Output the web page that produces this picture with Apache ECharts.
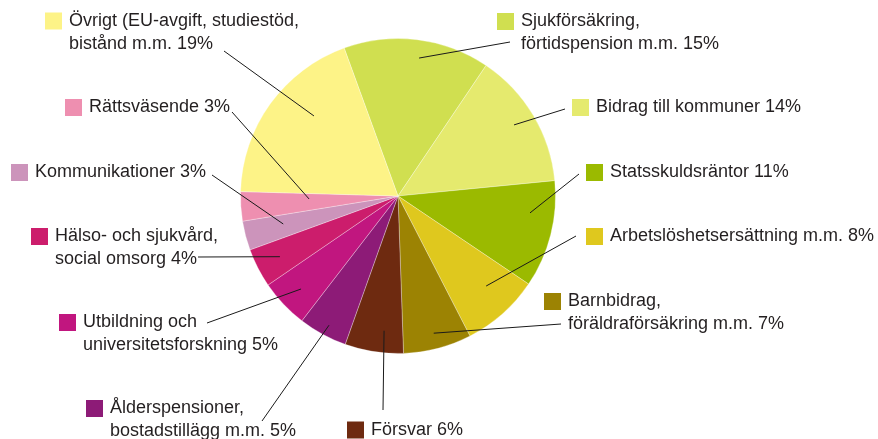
<!DOCTYPE html>
<html>
<head>
<meta charset="utf-8">
<script src="https://cdn.jsdelivr.net/npm/echarts@6/dist/echarts.min.js"></script>
<style>
  html, body { margin: 0; padding: 0; background: #fff; }
  #main { width: 878px; height: 439px; }
</style>
</head>
<body>
<div id="main"></div>
<script>
// utgiftsområden, medurs från toppen
var categories = [
  'Sjukförsäkring,\nförtidspension m.m.',
  'Bidrag till kommuner',
  'Statsskuldsräntor',
  'Arbetslöshetsersättning m.m.',
  'Barnbidrag,\nföräldraförsäkring m.m.',
  'Försvar',
  'Ålderspensioner,\nbostadstillägg m.m.',
  'Utbildning och\nuniversitetsforskning',
  'Hälso- och sjukvård,\nsocial omsorg',
  'Kommunikationer',
  'Rättsväsende',
  'Övrigt (EU-avgift, studiestöd,\nbistånd m.m.'
];
// andel i procent
var values = [15, 14, 11, 8, 7, 6, 5, 5, 4, 3, 3, 19];

// färger per tårtbit
var colors = ['#d0df50', '#e5ea6e', '#9bba00', '#dfc81e', '#9c8303', '#6e2a10',
  '#8d1b77', '#c1167f', '#cc1d6c', '#cc94bb', '#ee8fb0', '#fdf387'];

// etikettens övre vänstra hörn (rutan), linjens yttre ände,
// hur långt in linjen går och hur mycket den vrids (grader medurs)
var labelPos = [[497, 10], [572, 96], [586, 161], [586, 225], [544, 290], [347, 418.5],
  [86, 397], [59, 311], [31, 225], [11, 161], [65, 96], [45, 9.5]];
var lineEnd = [[510, 42], [565, 109], [579, 174], [576, 236], [561, 324], [383, 410],
  [262, 421], [207, 323], [198, 257], [212, 175], [232, 112], [224, 51]];
var innerK = [0.886, 0.864, 0.845, 0.8, 0.9, 0.86, 0.93, 0.853, 0.843, 0.75, 0.565, 0.737];
var innerRot = [1.7, -0.7, -6.9, -2.8, 0, -2.9, -0.5, -0.4, 0, 0.9, 1.9, 7.8];

var center = [398, 196];
var font = '"Liberation Sans", Arial, sans-serif';

var rich = {
  t: { fontSize: 18, lineHeight: 23, color: '#231f20', fontFamily: font },
  g: { width: 7, height: 17, lineHeight: 23 },
  sp: { width: 24, height: 17, lineHeight: 23 }
};
colors.forEach(function (c, i) {
  rich['sq' + i] = { width: 17, height: 17, lineHeight: 23, backgroundColor: c };
});

var pieData = categories.map(function (n, i) {
  return { name: n, value: values[i] };
});

// gemensamt för båda serierna: samma geometri
var pieBase = {
  type: 'pie',
  center: center,
  radius: 157.5,
  startAngle: 110,
  clockwise: true,
  avoidLabelOverlap: false,
  emphasis: { disabled: true },
  data: pieData
};

var myChart = echarts.init(document.getElementById('main'), null, { renderer: 'canvas' });
myChart.setOption({
  animation: false,
  color: colors,
  series: [
    // tårtbitarna
    Object.assign({}, pieBase, {
      z: 2,
      itemStyle: { borderColor: 'rgba(255,255,255,0.6)', borderWidth: 0.5 },
      label: { show: false },
      labelLine: { show: false }
    }),
    // osynlig kopia ovanpå, bara etiketter och linjer
    Object.assign({}, pieBase, {
      z: 5,
      silent: true,
      itemStyle: { color: 'rgba(0,0,0,0)', borderWidth: 0 },
      label: {
        show: true,
        position: 'outside',
        fontFamily: font,
        fontSize: 18,
        color: '#231f20',
        formatter: function (p) {
          var lines = (p.name + ' ' + p.value + '%').split('\n');
          var s = '{sq' + p.dataIndex + '|}{g|}{t|' + lines[0] + '}';
          if (lines[1]) s += '\n{sp|}{t|' + lines[1] + '}';
          return s;
        },
        rich: rich
      },
      labelLine: {
        show: true,
        length: 10,
        length2: 10,
        lineStyle: { color: '#1a1a1a', width: 1 }
      },
      labelLayout: function (p) {
        var i = p.dataIndex;
        var res = {
          x: labelPos[i][0],
          y: labelPos[i][1],
          align: 'left',
          verticalAlign: 'top'
        };
        var pts = p.labelLinePoints;
        if (pts) {
          // kantpunkten från echarts, dras in mot mitten och vrids lite
          var dx = (pts[0][0] - center[0]) * innerK[i];
          var dy = (pts[0][1] - center[1]) * innerK[i];
          var a = innerRot[i] * Math.PI / 180;
          var inner = [
            center[0] + dx * Math.cos(a) - dy * Math.sin(a),
            center[1] + dx * Math.sin(a) + dy * Math.cos(a)
          ];
          res.labelLinePoints = [inner, lineEnd[i], lineEnd[i]];
        }
        return res;
      }
    })
  ]
});
</script>
</body>
</html>
